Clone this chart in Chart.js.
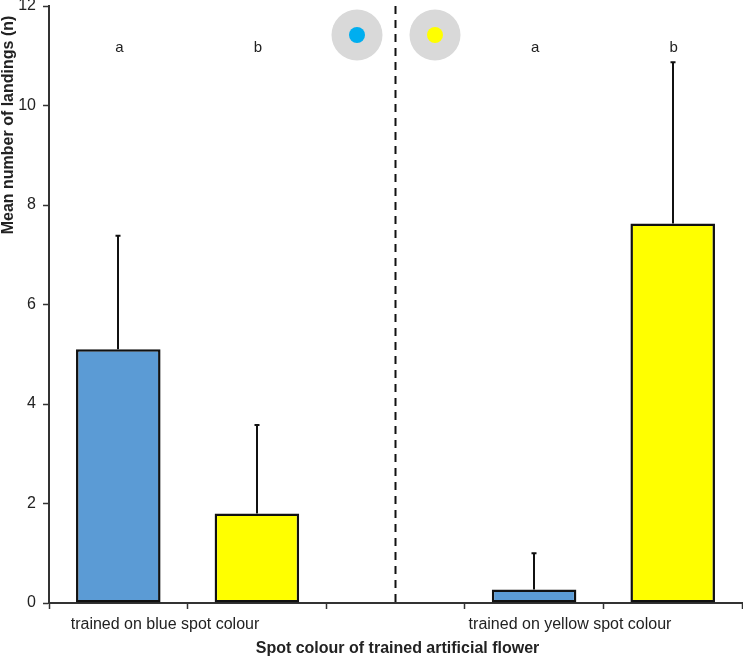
<!DOCTYPE html>
<html>
<head>
<meta charset="utf-8">
<style>
  html, body { margin: 0; padding: 0; background: #fff; }
  canvas { display: block; }
</style>
<script src="https://cdn.jsdelivr.net/npm/chart.js@4"></script>
</head>
<body>
<canvas id="chart" width="743" height="659"></canvas>
<script>
const categories = ['c1', 'c2', 'gap', 'c4', 'c5'];
const meanLandings = [5.1, 1.8, null, 0.27, 7.63];
const errorTops = [7.38, 3.58, null, 1.0, 10.87];
const letters = ['a', 'b', '', 'a', 'b'];
const barColours = ['#5b9bd5', '#ffff00', '#ffffff', '#5b9bd5', '#ffff00'];
const yTicks = [0, 2, 4, 6, 8, 10, 12];
const groupLabels = ['trained on blue spot colour', 'trained on yellow spot colour'];

const font = '"Liberation Sans", Arial, sans-serif';
const ink = '#222222';

const annotations = {
  id: 'annotations',
  afterDatasetsDraw(chart) {
    const { ctx, scales: { x, y } } = chart;
    ctx.save();

    // error bars
    ctx.strokeStyle = '#111';
    ctx.lineWidth = 2;
    errorTops.forEach((top, i) => {
      if (top === null) return;
      const px = Math.round(x.getPixelForValue(i)) ;
      const pt = y.getPixelForValue(top);
      ctx.beginPath();
      ctx.moveTo(px, y.getPixelForValue(meanLandings[i]));
      ctx.lineTo(px, pt);
      ctx.moveTo(px - 2.5, pt);
      ctx.lineTo(px + 2.5, pt);
      ctx.stroke();
    });

    // divider between the two training groups
    const mid = x.getPixelForValue(2);
    ctx.setLineDash([8, 6]);
    ctx.strokeStyle = '#111';
    ctx.beginPath();
    ctx.moveTo(mid, y.top);
    ctx.lineTo(mid, y.bottom);
    ctx.stroke();
    ctx.setLineDash([]);

    // flower icons
    [[mid - 38.5, '#00aeef', 25.5], [mid + 39.5, '#ffff00', 25.5]].forEach(([cx, colour, r]) => {
      ctx.fillStyle = '#d9d9d9';
      ctx.beginPath();
      ctx.arc(cx, 35, r, 0, Math.PI * 2);
      ctx.fill();
      ctx.fillStyle = colour;
      ctx.beginPath();
      ctx.arc(cx, 35, 8, 0, Math.PI * 2);
      ctx.fill();
    });

    // letters above the bars
    ctx.fillStyle = ink;
    ctx.font = '15px ' + font;
    ctx.textAlign = 'center';
    ctx.textBaseline = 'middle';
    letters.forEach((l, i) => {
      if (l) ctx.fillText(l, x.getPixelForValue(i) + 1, 48);
    });

    // group labels under the axis
    ctx.font = '16px ' + font;
    ctx.fillText(groupLabels[0], 165, 625);
    ctx.fillText(groupLabels[1], 570, 625);

    // axis titles
    ctx.font = 'bold 16px ' + font;
    ctx.fillText('Spot colour of trained artificial flower', 397.5, 649);
    ctx.translate(9, 125);
    ctx.rotate(-Math.PI / 2);
    ctx.fillText('Mean number of landings (n)', 0, 0);
    ctx.restore();
  }
};

new Chart(document.getElementById('chart'), {
  type: 'bar',
  data: {
    labels: categories,
    datasets: [{
      data: meanLandings,
      backgroundColor: barColours,
      borderColor: '#111',
      borderWidth: 2.5,
      borderSkipped: false,
      barPercentage: 0.61,
      categoryPercentage: 1
    }]
  },
  options: {
    responsive: false,
    animation: false,
    devicePixelRatio: 1,
    layout: { padding: { top: 6, right: 1, bottom: 0, left: 0 } },
    plugins: { legend: { display: false }, tooltip: { enabled: false } },
    scales: {
      x: {
        afterFit(s) { s.height = 56; s.paddingLeft = 0; s.paddingRight = 0; },
        ticks: { callback: () => '' },
        grid: { drawOnChartArea: false, tickLength: 6, tickColor: '#333', tickWidth: 1.5 },
        border: { color: '#333', width: 2 }
      },
      y: {
        min: 0,
        max: 12,
        afterFit(s) { s.width = 49; s.paddingTop = 0; s.paddingBottom = 0; },
        afterBuildTicks(s) { s.ticks = yTicks.map(v => ({ value: v })); },
        ticks: { color: ink, font: { family: font, size: 16 }, padding: 7 },
        grid: { drawOnChartArea: false, tickLength: 6, tickColor: '#333', tickWidth: 1.5 },
        border: { color: '#333', width: 2 }
      }
    }
  },
  plugins: [annotations]
});
</script>
</body>
</html>
